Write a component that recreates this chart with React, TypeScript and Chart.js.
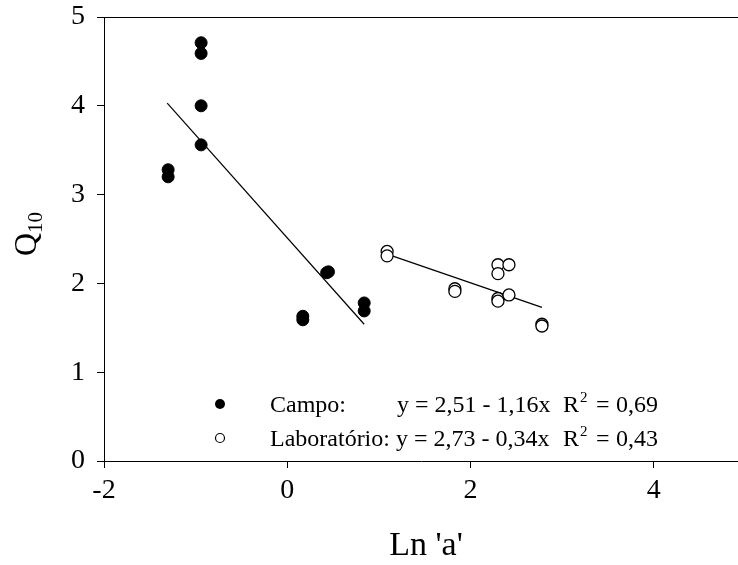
import React, { useEffect, useRef } from "react";
import { Chart, registerables } from "chart.js";

Chart.register(...registerables);

const campoX = [-0.94, -0.94, -0.94, -0.94, -1.3, -1.3, 0.43, 0.45, 0.17, 0.17, 0.84, 0.84];
const campoY = [4.71, 4.59, 4.0, 3.56, 3.28, 3.2, 2.12, 2.13, 1.63, 1.59, 1.78, 1.69];
const labX = [1.09, 1.09, 1.83, 1.83, 2.3, 2.3, 2.42, 2.3, 2.3, 2.42, 2.78, 2.78];
const labY = [2.36, 2.31, 1.94, 1.91, 2.21, 2.11, 2.21, 1.83, 1.8, 1.87, 1.54, 1.52];
const campoFitX = [-1.31, 0.84];
const campoFitY = [4.03, 1.54];
const labFitX = [1.09, 2.78];
const labFitY = [2.33, 1.73];
const xTicks = [-2, 0, 2, 4];
const yTicks = [0, 1, 2, 3, 4, 5];

const SERIF = '"Liberation Serif", "Times New Roman", serif';

const toPts = (xs: number[], ys: number[]) => xs.map((x, i) => ({ x, y: ys[i] }));

const decor = {
  id: "decor",
  afterDraw(chart: any) {
    const ctx = chart.ctx as CanvasRenderingContext2D;
    const a = chart.chartArea;
    ctx.save();
    // top frame line
    ctx.strokeStyle = "#000";
    ctx.lineWidth = 1;
    ctx.beginPath();
    ctx.moveTo(a.left, a.top + 0.5);
    ctx.lineTo(a.right, a.top + 0.5);
    ctx.stroke();

    ctx.fillStyle = "#000";
    // x title
    ctx.font = `34px ${SERIF}`;
    ctx.textAlign = "center";
    ctx.textBaseline = "alphabetic";
    ctx.fillText("Ln 'a'", 426, 555);

    // y title: Q10 rotated
    ctx.save();
    ctx.translate(36, 234);
    ctx.rotate(-Math.PI / 2);
    ctx.font = `32px ${SERIF}`;
    const qw = ctx.measureText("Q").width;
    ctx.font = `21px ${SERIF}`;
    const sw = ctx.measureText("10").width;
    const total = qw + sw;
    ctx.textAlign = "left";
    ctx.font = `32px ${SERIF}`;
    ctx.fillText("Q", -total / 2, 0);
    ctx.font = `21px ${SERIF}`;
    ctx.fillText("10", -total / 2 + qw, 6);
    ctx.restore();

    // legend
    ctx.lineWidth = 1.2;
    ctx.beginPath();
    ctx.arc(220, 404, 5, 0, Math.PI * 2);
    ctx.fill();
    ctx.beginPath();
    ctx.arc(220, 438, 4.5, 0, Math.PI * 2);
    ctx.fillStyle = "#fff";
    ctx.fill();
    ctx.stroke();
    ctx.fillStyle = "#000";
    ctx.textAlign = "left";
    ctx.font = `24px ${SERIF}`;
    ctx.fillText("Campo:", 270, 412);
    ctx.fillText("y = 2,51 - 1,16x", 397, 412);
    ctx.fillText("Laboratório: y = 2,73 - 0,34x", 270, 446);
    const drawR = (val: string, base: number) => {
      ctx.font = `24px ${SERIF}`;
      ctx.fillText("R", 563, base);
      const rw = ctx.measureText("R").width;
      ctx.font = `15px ${SERIF}`;
      ctx.fillText("2", 563 + rw + 1, base - 10);
      ctx.font = `24px ${SERIF}`;
      ctx.fillText("=", 596, base);
      ctx.fillText(val, 616, base);
    };
    drawR("0,69", 412);
    drawR("0,43", 446);
    ctx.restore();
  },
};

export default function App() {
  const ref = useRef<HTMLCanvasElement>(null);
  useEffect(() => {
    if (!ref.current) return;
    const chart = new Chart(ref.current, {
      type: "scatter",
      data: {
        datasets: [
          {
            label: "Campo",
            data: toPts(campoX, campoY),
            pointRadius: 6,
            pointBackgroundColor: "#000",
            pointBorderColor: "#000",
            pointBorderWidth: 1,
          },
          {
            label: "Laboratório",
            data: toPts(labX, labY),
            pointRadius: 6,
            pointBackgroundColor: "#fff",
            pointBorderColor: "#000",
            pointBorderWidth: 1.3,
          },
          {
            label: "fitCampo",
            type: "line",
            data: toPts(campoFitX, campoFitY),
            borderColor: "#000",
            borderWidth: 1.2,
            pointRadius: 0,
            showLine: true,
            fill: false,
          } as any,
          {
            label: "fitLab",
            type: "line",
            data: toPts(labFitX, labFitY),
            borderColor: "#000",
            borderWidth: 1.2,
            pointRadius: 0,
            showLine: true,
            fill: false,
          } as any,
        ],
      },
      options: {
        animation: false,
        responsive: false,
        devicePixelRatio: 1,
        layout: { autoPadding: false, padding: { top: 17, right: 0, left: 0, bottom: 0 } },
        plugins: {
          legend: { display: false },
          tooltip: { enabled: false },
        },
        scales: {
          x: {
            type: "linear",
            min: -2,
            max: 4.92,
            afterBuildTicks: (s: any) => {
              s.ticks = xTicks.map((v) => ({ value: v }));
            },
            afterFit: (s: any) => {
              s.height = 104;
              s.paddingLeft = 0;
              s.paddingRight = 0;
              s.paddingTop = 0;
              s.paddingBottom = 0;
            },
            grid: {
              drawOnChartArea: false,
              drawTicks: true,
              tickLength: 7,
              color: "#000",
              tickColor: "#000",
            },
            border: { display: true, color: "#000", width: 1 },
            ticks: {
              color: "#000",
              font: { family: SERIF, size: 28 },
              padding: 6,
              maxRotation: 0,
              autoSkip: false,
            },
          },
          y: {
            type: "linear",
            min: 0,
            max: 5,
            afterBuildTicks: (s: any) => {
              s.ticks = yTicks.map((v) => ({ value: v }));
            },
            afterFit: (s: any) => {
              s.width = 104;
              s.paddingTop = 0;
              s.paddingBottom = 0;
              s.paddingLeft = 0;
              s.paddingRight = 0;
            },
            grid: {
              drawOnChartArea: false,
              drawTicks: true,
              tickLength: 7,
              color: "#000",
              tickColor: "#000",
            },
            border: { display: true, color: "#000", width: 1 },
            ticks: {
              color: "#000",
              font: { family: SERIF, size: 28 },
              padding: 12,
              autoSkip: false,
            },
          },
        },
      },
      plugins: [decor],
    } as any);
    return () => chart.destroy();
  }, []);
  return (
    <div style={{ position: "fixed", left: 0, top: 0, width: 738, height: 565, background: "#fff" }}>
      <canvas ref={ref} width={738} height={565} style={{ width: 738, height: 565, display: "block" }} />
    </div>
  );
}
